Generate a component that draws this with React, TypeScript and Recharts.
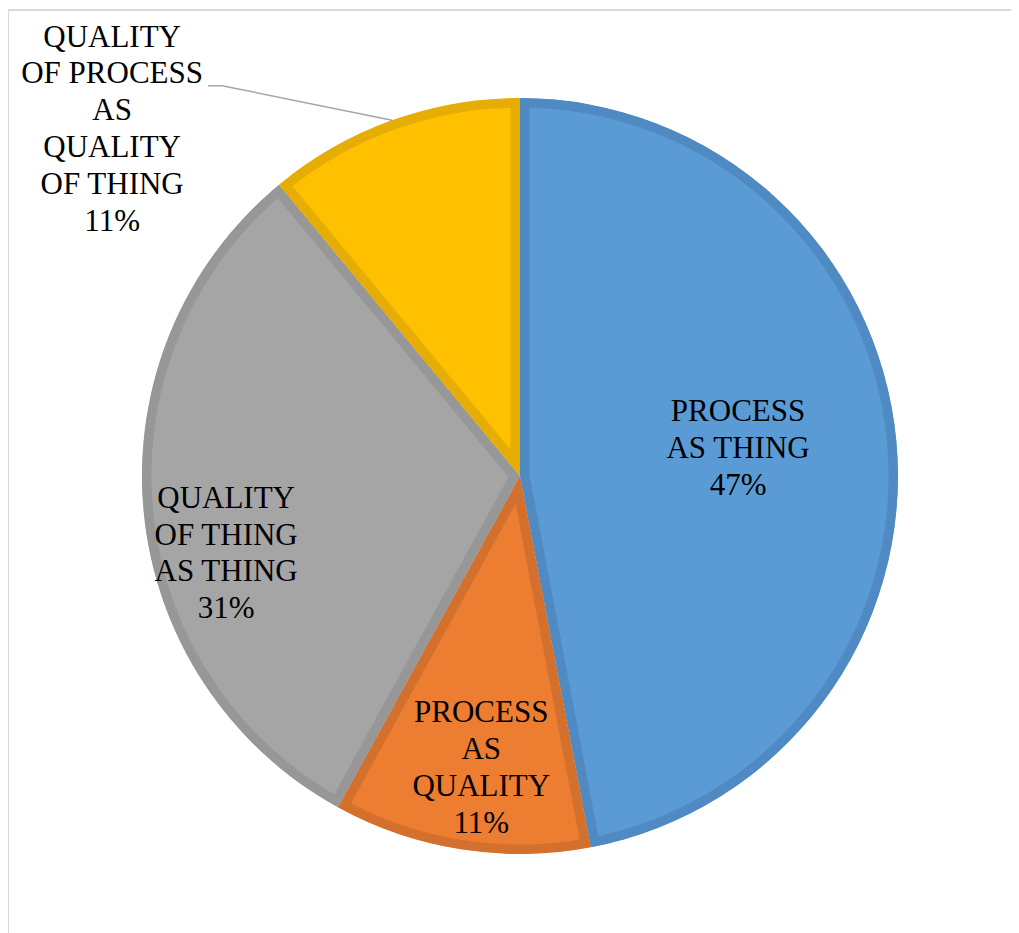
import { Pie, PieChart, Sector } from "recharts";

const categories = [
  "PROCESS AS THING",
  "PROCESS AS QUALITY",
  "QUALITY OF THING AS THING",
  "QUALITY OF PROCESS AS QUALITY OF THING",
];
const shares = [47, 11, 31, 11];
// wrapped label text, one entry per category
const labelRows = [
  ["PROCESS", "AS THING"],
  ["PROCESS", "AS", "QUALITY"],
  ["QUALITY", "OF THING", "AS THING"],
  ["QUALITY", "OF PROCESS", "AS", "QUALITY", "OF THING"],
];

const FILLS = ["#5B9BD5", "#ED7D31", "#A5A5A5", "#FFC000"];
const EDGES = ["#508AC3", "#D3702D", "#979797", "#E5AD06"];
// label placement: fraction of radius and angular shift (deg, clockwise)
const LABEL_POS = [
  { r: 0.582, shift: -2.2 },
  { r: 0.775, shift: -1.4 },
  { r: 0.803, shift: -9.1 },
  { r: 1.419, shift: -29.7 },
];
const FONT = "Liberation Serif, Times New Roman, serif";
const PITCH = 36.8;
const RADIAN = Math.PI / 180;

const data = categories.map((name, i) => ({ name, value: shares[i], fill: FILLS[i] }));

function labelCenter(p: any) {
  const pos = LABEL_POS[p.index];
  const theta = (90 - p.midAngle + pos.shift) * RADIAN;
  const r = p.outerRadius * pos.r;
  return { x: p.cx + r * Math.sin(theta), y: p.cy - r * Math.cos(theta) };
}

// sector with its outline kept inside its own area
function SliceShape(props: any) {
  const { cx, cy, innerRadius, outerRadius, startAngle, endAngle, index } = props;
  const geom = { cx, cy, innerRadius, outerRadius, startAngle, endAngle };
  const id = `slice-clip-${index}`;
  return (
    <g>
      <defs>
        <clipPath id={id}>
          <Sector {...geom} />
        </clipPath>
      </defs>
      <Sector
        {...geom}
        fill={FILLS[index]}
        stroke={EDGES[index]}
        strokeWidth={19}
        clipPath={`url(#${id})`}
      />
    </g>
  );
}

function renderLabel(p: any) {
  const { x, y } = labelCenter(p);
  const rows = [...labelRows[p.index], `${shares[p.index]}%`];
  const top = y - ((rows.length - 1) / 2) * PITCH;
  return (
    <text
      key={`lbl-${p.index}`}
      x={x}
      y={top}
      textAnchor="middle"
      dominantBaseline="central"
      style={{ fontFamily: FONT, fontSize: 31, fill: "#000" }}
    >
      {rows.map((row, i) => (
        <tspan key={i} x={x} y={top + i * PITCH}>
          {row}
        </tspan>
      ))}
    </text>
  );
}

function renderLeader(p: any) {
  if (LABEL_POS[p.index].r <= 1) return <g key={`ll-${p.index}`} />;
  const { x, y } = labelCenter(p);
  const theta = (90 - p.midAngle) * RADIAN;
  const sx = p.cx + p.outerRadius * Math.sin(theta);
  const sy = p.cy - p.outerRadius * Math.cos(theta);
  return (
    <path
      key={`ll-${p.index}`}
      d={`M${sx},${sy} L${x + 110},${y - 42} L${x + 96},${y - 42}`}
      fill="none"
      stroke="#A6A6A6"
      strokeWidth={1.5}
    />
  );
}

export default function App() {
  return (
    <div
      style={{
        marginLeft: -1,
        marginTop: 1,
        width: 1010,
        height: 922,
        borderLeft: "2px solid #D9D9D9",
        borderTop: "2px solid #D9D9D9",
        background: "#fff",
      }}
    >
      <PieChart width={1010} height={922}>
        <Pie
          data={data}
          dataKey="value"
          nameKey="name"
          cx={506}
          cy={460}
          outerRadius={378}
          startAngle={90}
          endAngle={-270}
          stroke="none"
          shape={SliceShape}
          inactiveShape={SliceShape}
          activeShape={SliceShape}
          label={renderLabel}
          labelLine={renderLeader}
          isAnimationActive={false}
        />
      </PieChart>
    </div>
  );
}
